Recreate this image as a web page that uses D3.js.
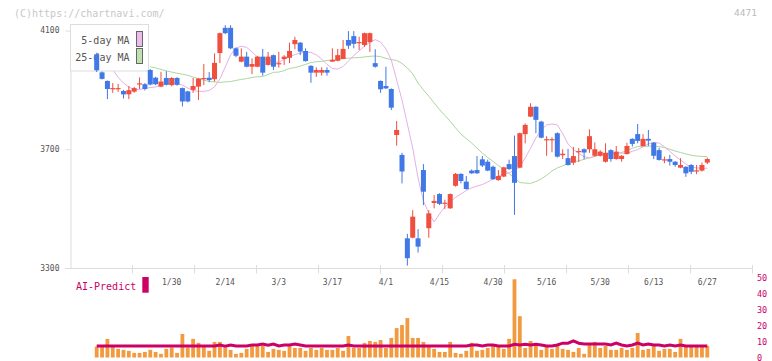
<!DOCTYPE html>
<html><head><meta charset="utf-8">
<script src="https://cdn.jsdelivr.net/npm/d3@7"></script>
<style>body{margin:0;background:#fff}svg{display:block}text{font-family:"DejaVu Sans Mono",monospace}</style>
</head><body><svg id="c" width="772" height="361"></svg>
<script>
const dates = ["1/9","1/10","1/14","1/15","1/16","1/17","1/20","1/21","1/22","1/23","1/24","1/27","1/28","1/29","1/30","1/31",
"2/3","2/4","2/5","2/6","2/7","2/10","2/12","2/13","2/14","2/17","2/18","2/19","2/20","2/21","2/25","2/26","2/27","2/28",
"3/3","3/4","3/5","3/6","3/7","3/10","3/11","3/12","3/13","3/14","3/17","3/18","3/19","3/21","3/24","3/25","3/26","3/27","3/28","3/31",
"4/1","4/2","4/3","4/4","4/7","4/8","4/9","4/10","4/11","4/14","4/15","4/16","4/17","4/18","4/21","4/22","4/23","4/24","4/25","4/28",
"4/30","5/1","5/2","5/7","5/8","5/9","5/12","5/13","5/14","5/15","5/16","5/19","5/20","5/21","5/22","5/23","5/26","5/27","5/28","5/29",
"5/30","6/2","6/3","6/4","6/5","6/6","6/9","6/10","6/11","6/12","6/13","6/16","6/17","6/18","6/19","6/20","6/23","6/24","6/25","6/26","6/27"];
const open  = [4020,3959,3930,3903,3903,3896,3885,3894,3920,3919,3967,3941,3911,3940,3916,3940,3906,3895,3900,3911,3938,3941,3936,4024,4109,4109,4040,3995,4012,3978,3978,4012,3984,4017,3988,4004,4008,4054,4059,4031,3981,3958,3958,3967,3995,3998,4004,4068,4081,4058,4051,4061,3990,3930,3913,3903,3748,3681,3400,3402,3400,3630,3434,3519,3549,3516,3501,3577,3617,3591,3628,3630,3666,3658,3641,3596,3608,3650,3677,3638,3751,3810,3843,3793,3731,3731,3754,3680,3670,3655,3690,3700,3700,3678,3678,3658,3697,3667,3667,3684,3735,3751,3711,3735,3722,3697,3664,3667,3658,3638,3641,3647,3626,3628,3655];
const high  = [4025,3962,3932,3923,3920,3900,3913,3910,3942,3923,3970,3944,3961,3963,3943,3943,3908,3897,3940,3940,3987,3960,4023,4093,4118,4118,4043,4040,4028,4006,4014,4038,4028,4019,4028,4017,4059,4079,4061,4040,3983,3976,3976,3976,4040,4038,4068,4098,4098,4079,4093,4093,4037,3932,3978,3905,3795,3688,3415,3495,3431,3650,3495,3546,3552,3530,3551,3620,3619,3610,3632,3677,3677,3665,3645,3630,3641,3665,3746,3756,3787,3855,3845,3796,3744,3740,3757,3700,3701,3708,3704,3703,3767,3723,3697,3720,3700,3711,3680,3722,3737,3785,3751,3765,3724,3705,3675,3681,3660,3670,3643,3650,3647,3655,3672];
const low   = [3960,3935,3869,3890,3893,3871,3869,3890,3903,3898,3915,3916,3909,3915,3912,3914,3844,3858,3890,3866,3916,3926,3928,3990,4088,4037,4010,3993,3976,3953,3976,3948,3982,3967,3975,3984,3990,4037,4017,3995,3924,3944,3948,3948,3995,3996,4004,4038,4040,4034,4045,4028,3975,3890,3903,3832,3712,3585,3308,3400,3352,3512,3402,3501,3512,3499,3499,3574,3585,3564,3617,3617,3640,3626,3597,3594,3606,3631,3479,3636,3720,3808,3754,3737,3678,3690,3672,3667,3645,3647,3657,3666,3688,3675,3675,3655,3658,3665,3658,3682,3709,3720,3709,3711,3667,3662,3653,3645,3641,3636,3607,3616,3616,3625,3650];
const close = [3966,3937,3903,3906,3906,3885,3899,3906,3922,3903,3918,3919,3928,3917,3940,3917,3861,3861,3913,3938,3940,3933,3991,4091,4091,4040,4015,4012,3978,3987,4012,3958,4012,3978,3990,4012,4031,4068,4029,3997,3958,3967,3967,3958,4001,4017,4038,4049,4055,4061,4091,4091,3978,3902,3905,3840,3765,3625,3333,3473,3372,3557,3484,3526,3516,3520,3549,3617,3593,3566,3619,3619,3645,3628,3599,3610,3639,3633,3587,3754,3782,3843,3799,3739,3734,3734,3675,3685,3647,3677,3694,3689,3744,3700,3692,3688,3667,3692,3678,3711,3718,3728,3735,3729,3678,3664,3666,3658,3647,3647,3619,3624,3629,3647,3667];
const ma5 = [null,null,null,3969,3942,3923,3910,3901,3901,3905,3908,3910,3915,3920,3923,3922,3916,3906,3898,3895,3895,3898,3910,3937,3977,4018,4041,4047,4043,4028,4011,4004,4000,3996,3992,4004,4011,4019,4024,4028,4026,4018,4004,3986,3972,3970,3979,3997,4016,4031,4048,4061,4069,4061,4038,4001,3933,3866,3785,3704,3603,3526,3485,3455,3482,3506,3522,3538,3549,3561,3570,3576,3581,3590,3600,3610,3617,3620,3630,3640,3671,3703,3738,3765,3782,3785,3782,3753,3718,3699,3686,3675,3671,3676,3683,3686,3688,3687,3687,3686,3693,3699,3708,3718,3723,3721,3708,3693,3677,3664,3650,3640,3637,3636,3636];
const ma25 = [null,null,null,null,null,null,null,null,null,null,3978,3974,3969,3964,3960,3956,3953,3949,3943,3938,3933,3928,3927,3925,3927,3928,3932,3935,3938,3942,3944,3945,3952,3959,3960,3965,3972,3975,3980,3986,3992,3995,3996,3999,4001,4002,4005,4007,4008,4009,4011,4013,4014,4012,4006,4002,3999,3989,3974,3954,3923,3900,3879,3856,3834,3814,3794,3772,3751,3736,3721,3704,3687,3672,3659,3645,3632,3618,3603,3588,3586,3585,3591,3600,3612,3627,3637,3644,3652,3657,3661,3666,3671,3676,3681,3682,3684,3686,3689,3696,3703,3709,3709,3710,3711,3709,3706,3700,3694,3689,3684,3680,3677,3676,3675];
const volume = [6.9,6.9,11.7,6.9,5.4,4.8,4.2,2.9,2.9,3.5,4.8,3.5,2.3,5.4,6.3,2.9,14.8,6.3,11.7,9.2,6.9,4.2,9.8,9.8,6.3,4.8,2.3,2.9,5.4,7.9,7.3,7.5,3.5,5.4,4.8,4.2,7.3,6.0,6.0,4.2,6.0,4.8,6.0,4.8,4.8,6.0,4.2,13.5,6.0,6.0,9.2,10.4,9.8,11.0,6.0,12.3,18.5,20.4,24.8,12.3,12.3,9.8,7.3,5.4,3.5,3.5,9.8,2.9,2.3,4.2,9.2,4.2,4.8,6.0,7.3,6.7,5.4,11.7,49.2,26.0,6.0,10.4,7.9,4.8,6.7,5.4,7.3,5.4,4.8,3.5,6.0,2.3,7.9,9.8,6.0,7.3,4.8,4.8,6.0,4.8,6.0,15.4,4.8,5.4,7.3,4.2,5.4,5.4,3.5,11.7,7.3,7.3,7.3,7.3,7.3];
const aiPredict = [7.3,7.3,7.3,7.3,7.3,7.3,7.3,7.3,7.3,7.3,7.3,7.3,7.3,7.3,7.3,7.3,7.3,7.3,7.3,7.3,7.3,7.3,7.3,7.9,7.1,7.9,7.3,7.3,7.3,7.9,7.9,8.5,7.7,8.5,7.3,7.9,7.9,8.5,7.9,7.3,7.3,7.3,7.3,7.3,7.3,7.3,7.3,7.9,7.3,7.3,7.3,7.3,7.3,7.3,7.3,7.3,7.3,7.3,7.3,7.3,7.3,7.3,7.3,7.3,7.3,7.3,7.3,7.3,7.3,7.3,7.9,7.9,7.3,7.9,7.9,7.3,7.3,7.3,8.3,7.9,8.3,7.9,8.3,7.9,7.3,7.3,7.9,9.0,9.0,10.4,9.0,8.5,8.5,8.5,8.5,8.5,7.9,9.0,7.9,7.3,7.9,9.0,7.9,8.5,7.9,7.9,7.3,7.9,7.3,7.9,7.3,7.3,7.3,7.3,7.3];
const priceTicks = [3300, 3700, 4100];
const dateLabels = ["1/30","2/14","3/3","3/17","4/1","4/15","4/30","5/16","5/30","6/13","6/27"];
const volumeTicks = [0, 10, 20, 30, 40, 50];
const maNames = ["5-day MA", "25-day MA"];

const RED = "#f04e3e", BLUE = "#4178e6", GRID = "#dddddd", MAG = "#cc0066";
const svg = d3.select("#c");
svg.append("rect").attr("width", 772).attr("height", 361).attr("fill", "#fff");

const x = d3.scalePoint().domain(d3.range(dates.length)).range([96.7, 707.3]);
const y = d3.scaleLinear().domain([3300, 4100]).range([268, 30.5]);
const yv = d3.scaleLinear().domain([0, 50]).range([357.5, 278]);
const grid = d3.scaleLinear().domain([0, 11]).range([70, 752]);

svg.append("text").attr("x", 14).attr("y", 16.5).attr("font-size", 10).attr("fill", "#c8c8c8").text("(C)https://chartnavi.com/");
svg.append("text").attr("x", 757).attr("y", 15.5).attr("text-anchor", "end").attr("font-size", 9.5).attr("fill", "#bbbbbb").text("4471");

const ax = svg.append("g").attr("transform", "translate(70.5,0)")
  .call(d3.axisLeft(y).tickValues(priceTicks).tickSize(5).tickSizeOuter(0).tickPadding(6).tickFormat(d3.format("d")));
ax.select(".domain").attr("stroke", GRID);
ax.selectAll(".tick line").attr("stroke", GRID);
ax.selectAll(".tick text").attr("font-family", "DejaVu Sans Mono").attr("font-size", 8).attr("fill", "#555").attr("dy", "0.3em");

svg.append("line").attr("x1", 65).attr("x2", grid(11)).attr("y1", 268.5).attr("y2", 268.5).attr("stroke", GRID);
svg.append("g").selectAll("line").data(d3.range(1, 12)).join("line")
  .attr("x1", d => Math.round(grid(d)) + 0.5).attr("x2", d => Math.round(grid(d)) + 0.5)
  .attr("y1", 265).attr("y2", 273.5).attr("stroke", GRID);
svg.append("g").selectAll("text").data(dateLabels).join("text")
  .attr("x", d => x(dates.indexOf(d))).attr("y", 285).attr("text-anchor", "middle")
  .attr("font-size", 8).attr("fill", "#555").text(d => d);

const maLine = d3.line().defined(d => d != null).x((d, i) => x(i)).y(d => y(d));
svg.append("path").datum(ma25).attr("d", maLine).attr("fill", "none").attr("stroke", "#aed6a0").attr("stroke-width", 1);
svg.append("path").datum(ma5).attr("d", maLine).attr("fill", "none").attr("stroke", "#e6b0e6").attr("stroke-width", 1);

const lg = svg.append("g");
lg.append("rect").attr("x", 70.5).attr("y", 24.5).attr("width", 78).attr("height", 46.5).attr("fill", "#fff").attr("stroke", GRID);
const swFill = ["#ecbcec", "#bfe0b0"];
maNames.forEach((n, k) => {
  lg.append("text").attr("x", 129.5).attr("y", 44.3 + k * 16.7).attr("text-anchor", "end")
    .attr("font-size", 10).attr("fill", "#555").text(n);
  lg.append("rect").attr("x", 136.5).attr("y", 31.5 + k * 17).attr("width", 6).attr("height", 15)
    .attr("fill", swFill[k]).attr("stroke", "#666");
});

const cg = svg.append("g");
dates.forEach((d, i) => {
  const up = close[i] >= open[i];
  const col = up ? RED : BLUE;
  const cx = x(i);
  cg.append("line").attr("x1", cx).attr("x2", cx).attr("y1", y(high[i])).attr("y2", y(low[i]))
    .attr("stroke", col).attr("stroke-width", 1);
  const top = y(Math.max(open[i], close[i])), bot = y(Math.min(open[i], close[i]));
  cg.append("rect").attr("x", cx - 2.5).attr("width", 5).attr("y", top).attr("height", Math.max(1.2, bot - top)).attr("fill", col);
});

svg.append("g").selectAll("rect").data(volume).join("rect")
  .attr("x", (d, i) => x(i) - 1.9).attr("width", 3.8)
  .attr("y", d => yv(d)).attr("height", d => yv(0) - yv(d)).attr("fill", "#f29a3f");
svg.append("path").datum(aiPredict).attr("d", d3.line().x((d, i) => x(i)).y(d => yv(d)))
  .attr("fill", "none").attr("stroke", MAG).attr("stroke-width", 3);
svg.append("g").selectAll("text").data(volumeTicks).join("text")
  .attr("x", 757).attr("y", d => yv(d) + 3).attr("font-size", 8.5).attr("fill", MAG).text(d => d);

svg.append("text").attr("x", 76).attr("y", 289.5).attr("font-size", 10).attr("fill", MAG).text("AI-Predict");
svg.append("rect").attr("x", 142.3).attr("y", 277).attr("width", 6.4).attr("height", 15.7).attr("fill", MAG);
</script></body></html>
